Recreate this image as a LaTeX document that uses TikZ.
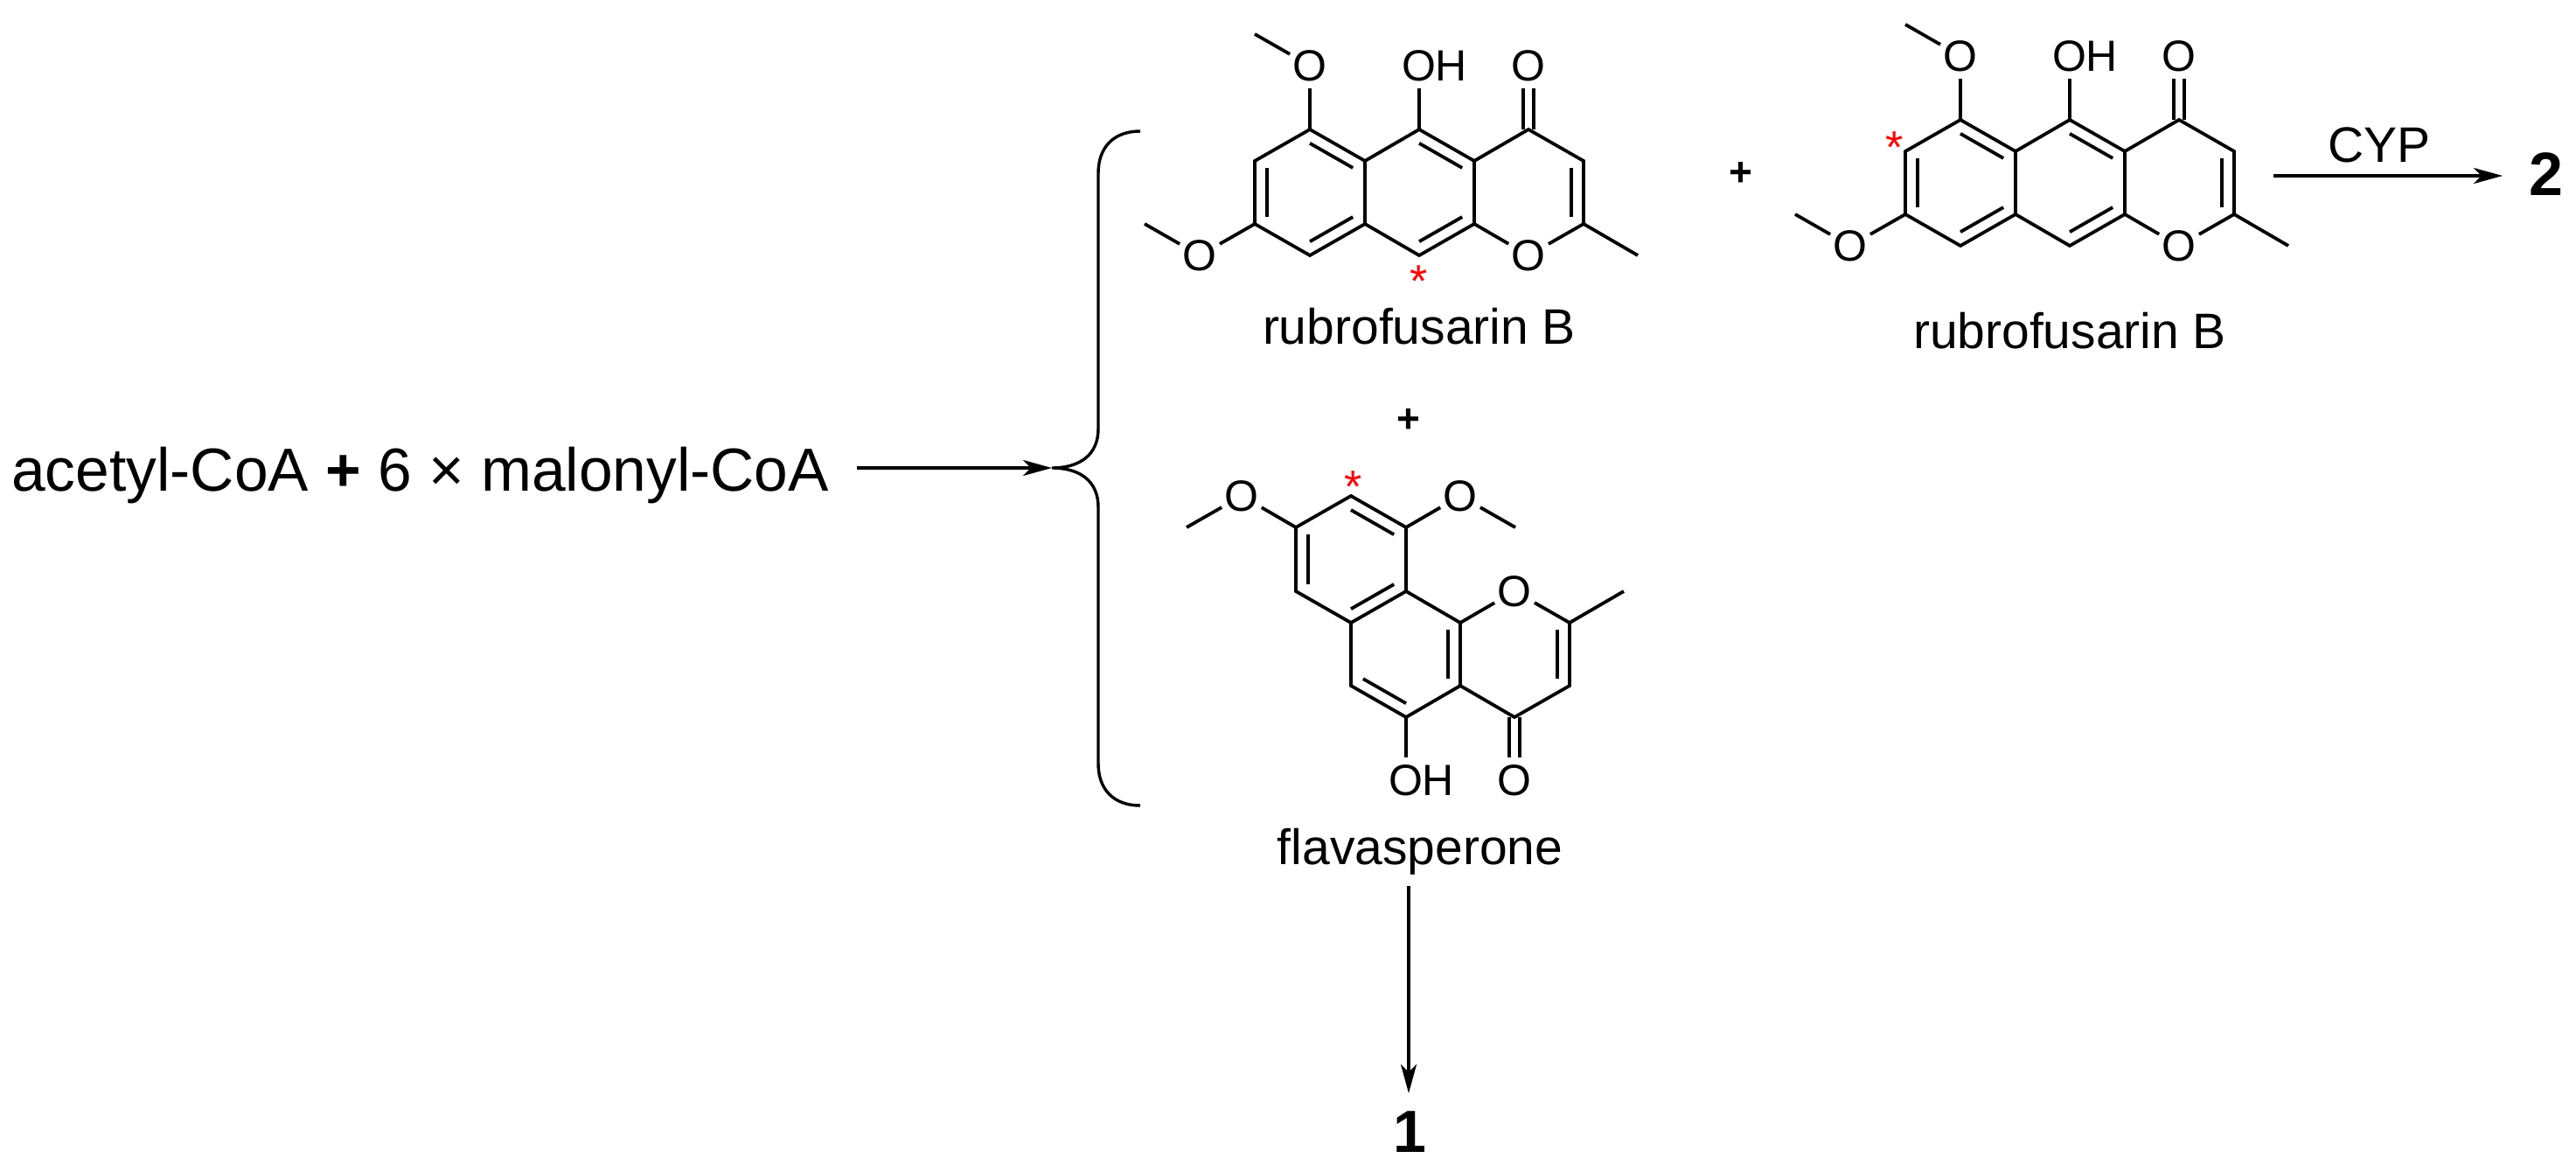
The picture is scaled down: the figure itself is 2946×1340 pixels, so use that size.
\documentclass[tikz,border=0pt]{standalone}
\usepackage{fontspec}
\setmainfont{Liberation Sans}
\usetikzlibrary{calc,arrows.meta}
\tikzset{
  bond/.style={line width=3.8pt,line cap=butt},
  atom/.style={circle,inner sep=0pt,minimum size=52pt,font=\fontsize{50}{50}\selectfont},
  hlab/.style={inner sep=0pt,anchor=west,font=\fontsize{50}{50}\selectfont},
  cname/.style={inner sep=0pt,anchor=base,font=\fontsize{57}{57}\selectfont},
  redstar/.style={inner sep=0pt,text=red,font=\fontsize{52}{52}\selectfont},
  plussign/.style={inner sep=0pt,font=\fontsize{46}{46}\selectfont\bfseries},
  arr/.style={line width=3.4pt,-{Stealth[length=33pt,width=18pt,inset=9pt]}},
}
\newcommand{\innerbond}[3]{\draw[bond] ($(#1)!0.22!(#3)$) -- ($(#2)!0.22!(#3)$);}
\newcommand{\cdbl}[2]{\draw[bond] ([xshift=-6pt]#1) -- ([xshift=-6pt]#2.south); \draw[bond] ([xshift=6pt]#1) -- ([xshift=6pt]#2.south);}
\newcommand{\rubrofus}[1]{%
  \coordinate (#1a1) at (0,0);   \coordinate (#1a2) at (-63,36);
  \coordinate (#1a3) at (-63,108); \coordinate (#1a4) at (0,144);
  \coordinate (#1a5) at (63,108);  \coordinate (#1a6) at (63,36);
  \coordinate (#1b1) at (125,0);   \coordinate (#1b2) at (188,36);
  \coordinate (#1b3) at (188,108); \coordinate (#1b4) at (125,144);
  \coordinate (#1c1) at (250,0);   \coordinate (#1c2) at (313,36);
  \coordinate (#1c3) at (313,108); \coordinate (#1me) at (375,144);
  \coordinate (#1cA) at (0,72); \coordinate (#1cB) at (125,72); \coordinate (#1cC) at (250,72);
  \node[atom] (#1rO) at (250,144) {O};
  \node[atom] (#1oT) at (0,-73) {O};
  \coordinate (#1mT) at (-63,-109);
  \node[atom] (#1oH) at (125,-73) {O};
  \node[hlab] (#1hH) at ([xshift=-8pt]#1oH.east) {H};
  \node[atom] (#1oK) at (250,-73) {O};
  \node[atom] (#1oL) at (-126,144) {O};
  \coordinate (#1mL) at (-189,108);
  \draw[bond,line join=miter] (#1a6) -- (#1a1) -- (#1a2) -- (#1a3) -- (#1a4) -- (#1a5) -- (#1a6) -- (#1b1) -- (#1b2) -- (#1b3) -- (#1b4) -- (#1a5);
  \draw[bond,line join=miter] (#1b2) -- (#1c1) -- (#1c2) -- (#1c3) -- (#1me);
  \draw[bond] (#1c3) -- (#1rO); \draw[bond] (#1rO) -- (#1b3);
  \innerbond{#1a1}{#1a6}{#1cA} \innerbond{#1a2}{#1a3}{#1cA} \innerbond{#1a4}{#1a5}{#1cA}
  \innerbond{#1b1}{#1b2}{#1cB} \innerbond{#1b3}{#1b4}{#1cB} \innerbond{#1c2}{#1c3}{#1cC}
  \draw[bond] (#1a1) -- (#1oT); \draw[bond] (#1oT) -- (#1mT);
  \draw[bond] (#1b1) -- (#1oH);
  \cdbl{#1c1}{#1oK}
  \draw[bond] (#1a3) -- (#1oL); \draw[bond] (#1oL) -- (#1mL);
}
\begin{document}
\begin{tikzpicture}[x=1pt,y=-1pt]
\useasboundingbox (0,0) rectangle (2946,1340);
% left reactants
\node[inner sep=0pt,anchor=base west,font=\fontsize{69.5}{70}\selectfont] (react) at (13,561) {acetyl-CoA {\bfseries +} 6 × malonyl-CoA};
\coordinate (arrS) at (980,535);
\coordinate (cusp) at (1203,535);
\draw[arr] (arrS) -- (cusp);
% brace
\draw[line width=3.4pt] (1304,150) .. controls (1274,150) and (1256,168) .. (1256,198) -- (1256,490)
  .. controls (1256,520) and (1235,535) .. (cusp)
  .. controls (1235,535) and (1256,550) .. (1256,580) -- (1256,873)
  .. controls (1256,903) and (1274,921) .. (1304,921);
% molecule 1
\begin{scope}[shift={(1498,148)}]
\rubrofus{m}
\end{scope}
\node[redstar] (s1) at (1623,322) {*};
\node[cname] (n1) at (1623,393) {rubrofusarin B};
\node[plussign] (p1) at (1611,481) {+};
\node[plussign] (p2) at (1991,199) {+};
% molecule 2
\begin{scope}[shift={(2242,137)}]
\rubrofus{r}
\end{scope}
\node[redstar] (s2) at (2167,169) {*};
\node[cname] (n2) at (2367,398) {rubrofusarin B};
% CYP
\coordinate (cypS) at (2600,201);
\coordinate (cypE) at (2862,201);
\draw[arr] (cypS) -- (cypE);
\node[cname] (cyp) at (2721,186) {CYP};
\node[inner sep=0pt,anchor=base,font=\fontsize{70}{70}\selectfont\bfseries] (two) at (2912,224) {2};
% flavasperone
\coordinate (f1) at (1545,567); \coordinate (f2) at (1608,603);
\coordinate (f3) at (1608,676); \coordinate (f4) at (1545,712);
\coordinate (f5) at (1482,676); \coordinate (f6) at (1482,603);
\coordinate (g1) at (1670,712); \coordinate (g2) at (1670,784);
\coordinate (g3) at (1608,820); \coordinate (g4) at (1545,784);
\coordinate (h1) at (1795,712); \coordinate (h2) at (1795,784);
\coordinate (h3) at (1732,820); \coordinate (fme) at (1857,676);
\coordinate (cA) at (1545,640); \coordinate (cB) at (1608,748); \coordinate (cC) at (1732,748);
\node[atom] (fO) at (1732,676) {O};
\node[atom] (oL) at (1420,567) {O}; \coordinate (mL) at (1357,603);
\node[atom] (oR) at (1670,567) {O}; \coordinate (mR) at (1733,603);
\node[atom] (oH) at (1608,892) {O};
\node[hlab] (hH) at ([xshift=-8pt]oH.east) {H};
\node[atom] (oK) at (1732,892) {O};
\draw[bond,line join=miter] (f3) -- (f2) -- (f1) -- (f6) -- (f5) -- (f4) -- (f3) -- (g1) -- (g2) -- (g3) -- (g4) -- (f4);
\draw[bond,line join=miter] (g2) -- (h3) -- (h2) -- (h1) -- (fme);
\draw[bond] (g1) -- (fO); \draw[bond] (fO) -- (h1);
\innerbond{f1}{f2}{cA} \innerbond{f5}{f6}{cA} \innerbond{f3}{f4}{cA}
\innerbond{g1}{g2}{cB} \innerbond{g4}{g3}{cB} \innerbond{h1}{h2}{cC}
\draw[bond] (f6) -- (oL); \draw[bond] (oL) -- (mL);
\draw[bond] (f2) -- (oR); \draw[bond] (oR) -- (mR);
\draw[bond] (g3) -- (oH);
\draw[bond] ([xshift=-6pt]h3) -- ([xshift=-6pt]oK.north); \draw[bond] ([xshift=6pt]h3) -- ([xshift=6pt]oK.north);
\node[redstar] (s3) at (1548,557) {*};
\node[cname] (n3) at (1624,988) {flavasperone};
% down arrow
\coordinate (dS) at (1611,1013);
\coordinate (dE) at (1611,1250);
\draw[arr] (dS) -- (dE);
\node[inner sep=0pt,anchor=base,font=\fontsize{68}{68}\selectfont\bfseries] (one) at (1612,1317) {1};
\end{tikzpicture}
\end{document}
